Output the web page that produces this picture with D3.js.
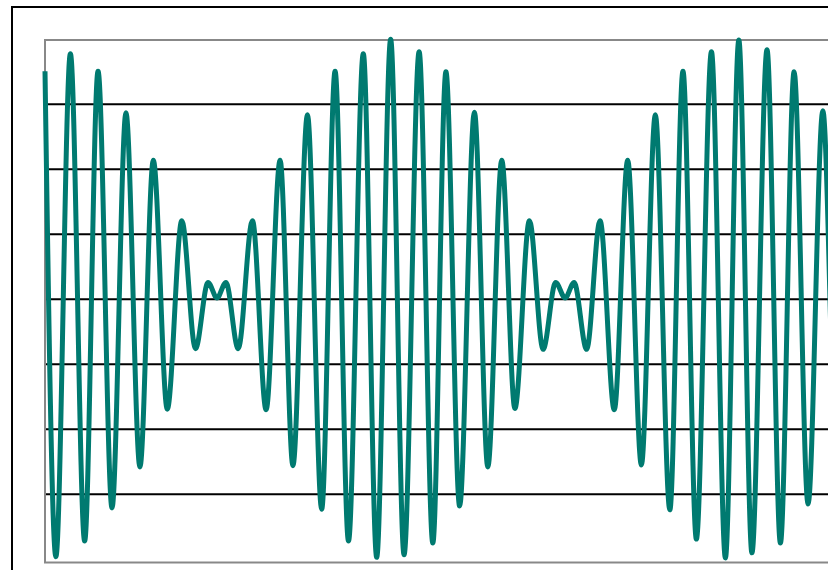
<!DOCTYPE html>
<html>
<head>
<meta charset="utf-8">
<script src="https://cdn.jsdelivr.net/npm/d3@7"></script>
<style>
  html, body { margin: 0; padding: 0; background: #ffffff; }
  svg { display: block; }
</style>
</head>
<body>
<svg id="chart" width="828" height="570"></svg>
<script>
// ---- Data (turning points of the beating waveform) ----
const timeValues = [
  0.00, 0.39, 0.91, 1.42, 1.90, 2.40, 2.90, 3.40, 3.88, 4.38,
  4.90, 5.39, 5.84, 6.16, 6.48, 6.92, 7.43, 7.92, 8.42, 8.88,
  9.40, 9.91, 10.39, 10.87, 11.40, 11.88, 12.38, 12.86, 13.40, 13.89,
  14.36, 14.85, 15.38, 15.86, 16.36, 16.83, 17.35, 17.84, 18.29, 18.63,
  18.95, 19.40, 19.88, 20.39, 20.87, 21.36, 21.86, 22.38, 22.85, 23.33,
  23.87, 24.37, 24.85, 25.32, 25.86, 26.34, 26.83, 27.33, 27.86, 28.35,
  28.83, 29.33
];
const signalValues = [
  3.51, -3.96, 3.78, -3.72, 3.51, -3.21, 2.87, -2.58, 2.14, -1.69,
  1.21, -0.76, 0.26, 0.02, 0.26, -0.76, 1.21, -1.70, 2.14, -2.56,
  2.84, -3.23, 3.51, -3.72, 3.78, -3.97, 4.00, -3.93, 3.81, -3.75,
  3.50, -3.18, 2.88, -2.58, 2.14, -1.68, 1.21, -0.77, 0.26, 0.02,
  0.26, -0.77, 1.21, -1.70, 2.14, -2.55, 2.84, -3.24, 3.51, -3.69,
  3.81, -3.98, 3.99, -3.90, 3.84, -3.75, 3.50, -3.15, 2.90, -2.56,
  2.14, -1.69
];
const gridValues = [-3, -2, -1, 0, 1, 2, 3];
const xDomain = [0, 30];
const yDomain = [-4.05, 3.99];

// ---- Layout ----
const svg = d3.select("#chart");
const frame = { left: 12, top: 7 };
const plot = { left: 45, top: 40, right: 882.6, bottom: 562.5 };

const x = d3.scaleLinear().domain(xDomain).range([plot.left, plot.right]);
const y = d3.scaleLinear().domain(yDomain).range([plot.bottom, plot.top]);

// outer frame (extends past the visible window)
svg.append("rect")
  .attr("x", frame.left).attr("y", frame.top)
  .attr("width", 950).attr("height", 620)
  .attr("fill", "#ffffff")
  .attr("stroke", "#000000").attr("stroke-width", 2);

// grid lines
svg.append("g").selectAll("line")
  .data(gridValues)
  .join("line")
  .attr("x1", plot.left).attr("x2", plot.right)
  .attr("y1", d => y(d)).attr("y2", d => y(d))
  .attr("stroke", "#000000").attr("stroke-width", 2);

// plot border
svg.append("rect")
  .attr("x", plot.left).attr("y", plot.top)
  .attr("width", plot.right - plot.left).attr("height", plot.bottom - plot.top)
  .attr("fill", "none")
  .attr("stroke", "#888888").attr("stroke-width", 2);

// waveform
const points = timeValues.map((t, i) => [t, signalValues[i]]);
const line = d3.line()
  .x(d => x(d[0]))
  .y(d => y(d[1]))
  .curve(d3.curveMonotoneX);

svg.append("path")
  .datum(points)
  .attr("d", line)
  .attr("fill", "none")
  .attr("stroke", "#007a70")
  .attr("stroke-width", 5)
  .attr("stroke-linejoin", "round");
</script>
</body>
</html>
